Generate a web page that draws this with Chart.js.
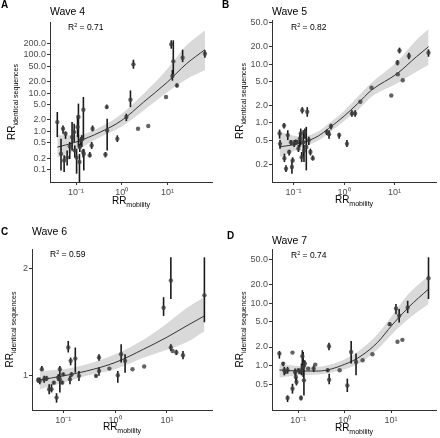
<!DOCTYPE html>
<html>
<head>
<meta charset="utf-8">
<script src="https://cdn.jsdelivr.net/npm/chart.js@4.4.1/dist/chart.umd.min.js"></script>
<style>
  body { margin: 0; background: #fff; }
  #wrap { position: relative; width: 440px; height: 438px; }
  #wrap canvas { position: absolute; }
</style>
</head>
<body>
<div id="wrap">
  <canvas id="wave4" width="220" height="219" style="left:0;top:0"></canvas>
  <canvas id="wave5" width="220" height="219" style="left:220px;top:0"></canvas>
  <canvas id="wave6" width="220" height="219" style="left:0;top:219px"></canvas>
  <canvas id="wave7" width="220" height="219" style="left:220px;top:219px"></canvas>
</div>
<script>
// x axis is the same for all panels
const xTickValues = [0.1, 1, 10];
const xTickLabels = ["10⁻¹", "10⁰", "10¹"];

// Wave 4
const wave4X  = [0.039, 0.047, 0.052, 0.055, 0.059, 0.064, 0.073, 0.082, 0.091, 0.094, 0.103, 0.108, 0.113, 0.119, 0.121, 0.127, 0.134, 0.143, 0.145, 0.148, 0.20, 0.22, 0.23, 0.44, 0.47, 0.48, 0.80, 1.26, 1.55, 1.8, 2.27, 3.8, 9.3, 12.1, 13.4, 12.8, 16.1, 21.4, 65.8];
const wave4Y  = [1.75, 0.26, 1.17, 0.175, 0.87, 0.21, 0.41, 0.71, 0.96, 0.32, 0.21, 1.30, 2.37, 0.16, 0.39, 0.58, 0.64, 0.29, 3.67, 0.26, 0.24, 0.43, 1.17, 0.25, 4.3, 1.06, 0.64, 2.37, 6.7, 56, 1.17, 1.38, 7.9, 186, 67, 28, 15.8, 83.5, 106];
const wave4Lo = [0.71, 0.096, 0.87, 0.087, 0.64, 0.13, 0.19, 0.32, 0.53, 0.21, 0.079, 0.71, 0.39, 0.048, 0.29, 0.43, 0.39, 0.21, 0.58, 0.096, 0.21, 0.35, 1.0, 0.21, 3.9, 0.32, 0.53, 1.86, 4.3, 43, null, null, null, 143, 30, 21, 14, 64, 83.5];
const wave4Hi = [3.2, 0.64, 1.43, 0.24, 1.0, 0.32, 0.53, 1.75, 1.58, 0.43, 0.35, 2.61, 5.3, 0.26, 0.48, 0.71, 0.79, 0.35, 7.9, 0.35, 0.29, 0.53, 1.43, 0.29, 5.0, 2.14, 0.79, 2.89, 11.7, 74, null, null, null, 237, 237, 40, 17.8, 135, 130];
const fit4X  = [0.039, 0.1, 0.34, 1, 3, 10, 26, 66];
const fit4Y  = [0.39, 0.53, 0.96, 1.94, 5.8, 19.4, 58, 135];
const fit4Lo = [0.21, 0.32, 0.71, 1.35, 3.5, 10.6, 23, 39];
const fit4Hi = [0.79, 0.79, 1.30, 2.89, 9.6, 43, 175, 430];
const yTicks4 = [0.1, 0.2, 0.5, 1, 2, 5, 10, 20, 50, 100, 200];
const yLabels4 = ["0.1", "0.2", "0.5", "1.0", "2.0", "5.0", "10.0", "20.0", "50.0", "100.0", "200.0"];

// Wave 5
const wave5X  = [0.053, 0.054, 0.065, 0.066, 0.071, 0.077, 0.082, 0.089, 0.093, 0.096, 0.103, 0.111, 0.119, 0.125, 0.133, 0.139, 0.145, 0.149, 0.156, 0.161, 0.168, 0.179, 0.187, 0.201, 0.216, 0.240, 0.455, 0.505, 0.552, 0.80, 1.14, 1.43, 1.66, 2.1, 3.5, 8.6, 11.4, 11.6, 12.5, 14.5, 19.2, 46.9];
const wave5Y  = [0.66, 0.44, 0.90, 0.25, 0.167, 0.62, 0.32, 0.47, 0.178, 0.23, 0.44, 0.47, 0.47, 0.365, 0.54, 0.66, 0.26, 1.64, 0.47, 0.34, 0.70, 0.39, 1.54, 0.51, 0.32, 0.25, 0.70, 0.64, 0.88, 0.62, 0.44, 1.44, 1.44, 2.28, 3.95, 2.92, 10.5, 6.7, 16.9, 5.3, 13.7, 15.6];
const wave5Lo = [0.54, 0.365, 0.80, 0.216, 0.146, 0.51, 0.28, 0.42, 0.137, 0.216, 0.39, 0.43, 0.44, 0.32, 0.39, 0.42, 0.216, 1.44, 0.26, 0.216, 0.54, 0.156, 1.27, 0.42, 0.28, 0.23, 0.62, 0.54, 0.77, 0.54, 0.39, 1.27, 1.27, null, null, null, 9.5, null, 15.2, null, 12.0, 13.3];
const wave5Hi = [0.77, 0.51, 1.0, 0.30, 0.19, 0.75, 0.35, 0.51, 0.23, 0.26, 0.51, 0.52, 0.51, 0.42, 0.66, 0.80, 0.32, 1.85, 0.75, 0.42, 0.80, 0.855, 1.85, 0.58, 0.365, 0.28, 0.77, 0.75, 0.97, 0.68, 0.51, 1.64, 1.64, null, null, null, 11.7, null, 19.0, null, 15.6, 17.8];
const fit5X  = [0.053, 0.149, 0.31, 0.49, 1, 1.86, 3.5, 11.3, 27, 47];
const fit5Y  = [0.39, 0.46, 0.60, 0.80, 1.30, 2.13, 3.6, 6.9, 13.3, 19.7];
const fit5Lo = [0.26, 0.38, 0.50, 0.66, 1.08, 1.64, 2.77, 4.7, 7.4, 9.6];
const fit5Hi = [0.70, 0.58, 0.72, 0.97, 1.60, 2.77, 4.8, 11.0, 25.6, 39];
const yTicks5 = [0.2, 0.5, 1, 2, 5, 10, 20, 50];
const yLabels5 = ["0.2", "0.5", "1.0", "2.0", "5.0", "10.0", "20.0", "50.0"];

// Wave 6
const wave6X  = [0.0328, 0.0353, 0.0387, 0.0429, 0.0476, 0.0536, 0.0594, 0.0659, 0.0743, 0.080, 0.0861, 0.0861, 0.0957, 0.1, 0.125, 0.135, 0.139, 0.145, 0.171, 0.201, 0.429, 0.49, 0.49, 0.777, 1.13, 1.31, 1.56, 2.17, 3.64, 8.62, 11.9, 11.9, 12.9, 15.2, 20.4, 52.8];
const wave6Y  = [0.970, 0.964, 1.04, 0.974, 0.979, 0.913, 0.913, 0.953, 0.865, 0.985, 1.04, 0.974, 0.953, 1.006, 1.197, 0.974, 1.098, 1.006, 1.114, 0.996, 0.996, 1.122, 1.028, 1.044, 1.0, 1.146, 1.098, 1.040, 1.058, 1.55, 1.85, 1.197, 1.171, 1.159, 1.139, 1.68];
const wave6Lo = [0.953, 0.943, 1.028, 0.953, 0.964, 0.884, 0.894, 0.943, 0.837, 0.964, 1.028, 0.894, 0.943, 0.996, 1.159, 0.943, 1.067, 0.99, 1.017, 0.964, 0.985, 1.098, 0.996, null, 0.953, 1.086, 1.017, null, null, 1.47, 1.64, 1.171, null, 1.14, 1.11, 1.41];
const wave6Hi = [0.985, 0.985, 1.062, 0.996, 0.996, 0.943, 0.943, 0.964, 0.890, 1.006, 1.062, 1.028, 0.964, 1.017, 1.25, 0.996, 1.122, 1.02, 1.197, 1.028, 1.006, 1.146, 1.051, null, 1.028, 1.223, 1.146, null, null, 1.66, 2.15, 1.223, null, 1.18, 1.17, 2.15];
const fit6X  = [0.0353, 0.1, 0.283, 1, 3.53, 10, 24.4, 52.8];
const fit6Y  = [0.970, 0.996, 1.028, 1.086, 1.184, 1.28, 1.38, 1.47];
const fit6Lo = [0.913, 0.953, 0.996, 1.04, 1.12, 1.18, 1.24, 1.33];
const fit6Hi = [1.028, 1.04, 1.074, 1.146, 1.26, 1.40, 1.55, 1.66];
const yTicks6 = [1, 2];
const yLabels6 = ["1", "2"];

// Wave 7
const wave7X  = [0.039, 0.047, 0.0498, 0.052, 0.0586, 0.0586, 0.0747, 0.0747, 0.085, 0.088, 0.091, 0.1, 0.107, 0.114, 0.117, 0.122, 0.127, 0.132, 0.138, 0.163, 0.214, 0.232, 0.43, 0.459, 0.463, 0.78, 1.14, 1.38, 1.76, 2.44, 3.97, 9.37, 12.8, 13.8, 15.0, 17.6, 22.9, 64.5];
const wave7Y  = [1.57, 1.09, 0.853, 0.80, 0.853, 0.31, 1.63, 0.435, 0.80, 0.667, 0.556, 0.853, 0.80, 0.31, 0.853, 1.43, 0.963, 0.59, 1.09, 0.906, 0.906, 1.05, 0.853, 2.06, 0.605, 0.853, 0.49, 1.67, 1.16, 1.23, 1.53, 4.62, 8.22, 2.42, 6.28, 2.6, 8.53, 24.8];
const wave7Lo = [1.31, 0.99, 0.71, 0.75, 0.754, 0.267, null, 0.362, 0.71, 0.556, 0.49, 0.80, 0.75, 0.283, 0.71, 1.02, 0.667, 0.34, 0.964, null, 0.80, null, 0.80, 1.78, 0.51, null, 0.385, 1.09, 0.71, null, null, 4.35, 6.67, null, 4.91, null, 6.92, 11.6];
const wave7Hi = [1.73, 1.16, 0.964, 0.85, 0.964, 0.34, null, 0.52, 0.906, 0.80, 0.667, 0.906, 0.85, 0.34, 1.09, 1.78, 1.67, 1.09, 1.23, null, 1.02, null, 0.906, 2.33, 0.754, null, 0.628, 2.5, 1.57, null, null, 4.91, 9.64, null, 8.03, null, 10.9, 53.5];
const fit7X  = [0.039, 0.1, 0.27, 1, 2.25, 5.1, 10.5, 23.6, 64.5];
const fit7Y  = [0.863, 0.83, 0.83, 1.06, 1.44, 2.36, 4.45, 8.5, 16.7];
const fit7Lo = [0.65, 0.71, 0.73, 0.885, 1.13, 1.84, 3.2, 5.56, 9.64];
const fit7Hi = [1.06, 1.0, 0.98, 1.28, 1.84, 3.2, 6.3, 13.9, 27.3];
const yTicks7 = [0.5, 1, 2, 5, 10, 20, 50];
const yLabels7 = ["0.5", "1.0", "2.0", "5.0", "10.0", "20.0", "50.0"];

const FONT = "'Liberation Sans', Arial, sans-serif";
const CANVAS_H = 219;
Chart.defaults.font.family = FONT;

// vertical error bars, drawn just before the points
const errorBars = {
  id: "errorBars",
  beforeDatasetDraw(chart, args) {
    const ds = chart.data.datasets[args.index];
    if (!ds.errLo) return;
    const ctx = chart.ctx, a = chart.chartArea, y = chart.scales.y;
    const meta = chart.getDatasetMeta(args.index);
    ctx.save();
    ctx.beginPath();
    ctx.rect(a.left, a.top, a.right - a.left, a.bottom - a.top);
    ctx.clip();
    ctx.strokeStyle = "#1a1a1a";
    ctx.lineWidth = 1.6;
    meta.data.forEach((pt, i) => {
      if (ds.errLo[i] == null) return;
      ctx.beginPath();
      ctx.moveTo(pt.x, y.getPixelForValue(ds.errLo[i]));
      ctx.lineTo(pt.x, y.getPixelForValue(ds.errHi[i]));
      ctx.stroke();
    });
    ctx.restore();
  }
};

// text with a subscript, centred on cx
function drawSub(ctx, main, sub, cx, baseline) {
  ctx.font = "10px " + FONT;
  const w1 = ctx.measureText(main).width;
  ctx.font = "7px " + FONT;
  const w2 = ctx.measureText(sub).width;
  const x = cx - (w1 + w2) / 2;
  ctx.font = "10px " + FONT;
  ctx.fillText(main, x, baseline);
  ctx.font = "7px " + FONT;
  ctx.fillText(sub, x + w1, baseline + 2.5);
}

// panel letter, wave title, R², axis titles
const panelText = {
  id: "panelText",
  afterDraw(chart, args, o) {
    const ctx = chart.ctx, a = chart.chartArea;
    ctx.save();
    ctx.fillStyle = "#000";
    ctx.textAlign = "left";
    ctx.textBaseline = "alphabetic";
    ctx.font = "bold 10px " + FONT;
    ctx.fillText(o.letter, o.letterX, o.letterY);
    ctx.font = "10.5px " + FONT;
    ctx.fillText(o.title, a.left, o.titleY);

    let x = o.r2X;
    ctx.font = "8.5px " + FONT;
    ctx.fillText("R", x, o.r2Y);
    x += ctx.measureText("R").width;
    ctx.font = "5.5px " + FONT;
    ctx.fillText("2", x, o.r2Y - 3.5);
    x += ctx.measureText("2").width;
    ctx.font = "8.5px " + FONT;
    ctx.fillText(" = " + o.r2, x, o.r2Y);

    drawSub(ctx, "RR", "mobility", (a.left + a.right) / 2, a.bottom + o.xTitleGap);

    ctx.translate(o.yTitleX, (a.top + a.bottom) / 2);
    ctx.rotate(-Math.PI / 2);
    drawSub(ctx, "RR", "identical sequences", 0, 4);
    ctx.restore();
  }
};

function makePanel(id, p) {
  const pts = p.x.map((v, i) => ({ x: v, y: p.y[i] }));
  const line = p.fitX.map((v, i) => ({ x: v, y: p.fitY[i] }));
  const upper = p.fitX.map((v, i) => ({ x: v, y: p.fitHi[i] }));
  const lower = p.fitX.map((v, i) => ({ x: v, y: p.fitLo[i] }));
  const b = p.box;

  new Chart(document.getElementById(id), {
    type: "scatter",
    data: {
      datasets: [
        { data: pts, errLo: p.lo, errHi: p.hi, pointRadius: 2.2, pointBackgroundColor: "rgba(60,60,60,0.8)",
          pointBorderWidth: 0, order: 0 },
        { type: "line", data: line, borderColor: "#333", borderWidth: 1, pointRadius: 0, fill: false,
          cubicInterpolationMode: "monotone", order: 1 },
        { type: "line", data: upper, borderColor: "rgba(0,0,0,0)", pointRadius: 0, fill: "+1",
          backgroundColor: "#d9d9d9", cubicInterpolationMode: "monotone", order: 2 },
        { type: "line", data: lower, borderColor: "rgba(0,0,0,0)", pointRadius: 0, fill: false,
          cubicInterpolationMode: "monotone", order: 3 }
      ]
    },
    options: {
      responsive: false,
      animation: false,
      events: [],
      layout: { padding: { top: b.top, right: b.right, left: 0, bottom: 0 } },
      plugins: {
        legend: { display: false },
        tooltip: { enabled: false },
        panelText: p.text
      },
      scales: {
        x: {
          type: "logarithmic",
          min: p.xMin, max: p.xMax,
          afterFit: s => { s.height = CANVAS_H - b.bottom; },
          afterBuildTicks: s => { s.ticks = xTickValues.map(v => ({ value: v })); },
          ticks: { callback: (v, i) => xTickLabels[i], color: "#4d4d4d", font: { size: 9 },
                   padding: 2, maxRotation: 0, autoSkip: false },
          grid: { drawOnChartArea: false, tickLength: 3, color: "#333" },
          border: { color: "#333", width: 1 }
        },
        y: {
          type: "logarithmic",
          min: p.yMin, max: p.yMax,
          afterFit: s => { s.width = b.left; },
          afterBuildTicks: s => { s.ticks = p.yTicks.map(v => ({ value: v })); },
          ticks: { callback: (v, i) => p.yLabels[i], color: "#4d4d4d", font: { size: 9 },
                   padding: 1, autoSkip: false },
          grid: { drawOnChartArea: false, tickLength: 3, color: "#333" },
          border: { color: "#333", width: 1 }
        }
      }
    },
    plugins: [errorBars, panelText]
  });
}

makePanel("wave4", {
  x: wave4X, y: wave4Y, lo: wave4Lo, hi: wave4Hi,
  fitX: fit4X, fitY: fit4Y, fitLo: fit4Lo, fitHi: fit4Hi,
  yTicks: yTicks4, yLabels: yLabels4,
  xMin: 0.027, xMax: 94, yMin: 0.048, yMax: 711,
  box: { left: 50, right: 8, top: 22, bottom: 182 },
  text: { letter: "A", letterX: 1, letterY: 8, title: "Wave 4", titleY: 15, r2: "0.71", r2X: 68, r2Y: 30,
          xTitleGap: 22, yTitleX: 11 }
});
makePanel("wave5", {
  x: wave5X, y: wave5Y, lo: wave5Lo, hi: wave5Hi,
  fitX: fit5X, fitY: fit5Y, fitLo: fit5Lo, fitHi: fit5Hi,
  yTicks: yTicks5, yLabels: yLabels5,
  xMin: 0.0375, xMax: 66, yMin: 0.099, yMax: 56,
  box: { left: 52, right: 1, top: 20, bottom: 182 },
  text: { letter: "B", letterX: 2, letterY: 8, title: "Wave 5", titleY: 15, r2: "0.82", r2X: 71, r2Y: 30,
          xTitleGap: 21, yTitleX: 19 }
});
makePanel("wave6", {
  x: wave6X, y: wave6Y, lo: wave6Lo, hi: wave6Hi,
  fitX: fit6X, fitY: fit6Y, fitLo: fit6Lo, fitHi: fit6Hi,
  yTicks: yTicks6, yLabels: yLabels6,
  xMin: 0.025, xMax: 74, yMin: 0.798, yMax: 2.27,
  box: { left: 32, right: 8, top: 30, bottom: 191 },
  text: { letter: "C", letterX: 1, letterY: 16, title: "Wave 6", titleY: 16, r2: "0.59", r2X: 50, r2Y: 38,
          xTitleGap: 20, yTitleX: 9 }
});
makePanel("wave7", {
  x: wave7X, y: wave7Y, lo: wave7Lo, hi: wave7Hi,
  fitX: fit7X, fitY: fit7Y, fitLo: fit7Lo, fitHi: fit7Hi,
  yTicks: yTicks7, yLabels: yLabels7,
  xMin: 0.027, xMax: 93.6, yMin: 0.199, yMax: 72.5,
  box: { left: 52, right: 1, top: 30, bottom: 191 },
  text: { letter: "D", letterX: 7, letterY: 20, title: "Wave 7", titleY: 25, r2: "0.74", r2X: 71, r2Y: 39,
          xTitleGap: 21, yTitleX: 19 }
});
</script>
</body>
</html>
